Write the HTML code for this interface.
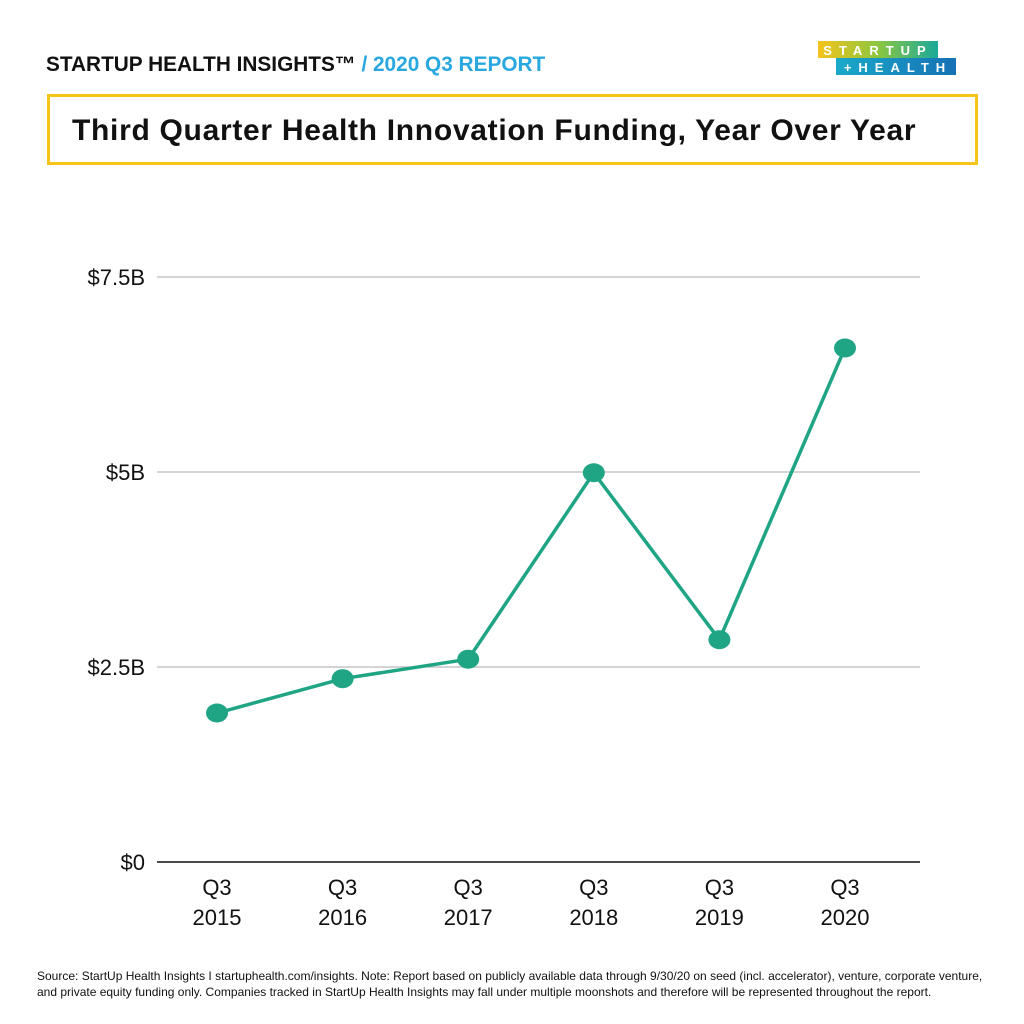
<!DOCTYPE html>
<html><head><meta charset="utf-8"><style>
body{margin:0;background:#fff;}
#c{position:relative;width:1024px;height:1024px;background:#fff;font-family:"Liberation Sans",sans-serif;overflow:hidden}
.hdr{position:absolute;left:46px;top:53px;font-size:20.8px;font-weight:bold;color:#111;letter-spacing:0px}
.hdr span{color:#29a8df}
.title{position:absolute;left:47px;top:94px;width:931px;height:71px;border:3px solid #f5c518;box-sizing:border-box}
.title div{position:absolute;left:22px;top:17px;font-size:30px;font-weight:bold;color:#111;letter-spacing:0.7px;white-space:nowrap}
.foot{position:absolute;left:37px;top:968px;font-size:12px;color:#111;line-height:16px;width:960px}
</style></head><body>
<div id="c">
<div class="hdr">STARTUP HEALTH INSIGHTS™ <span>/ 2020 Q3 REPORT</span></div>
<svg style="position:absolute;left:0;top:0" width="1024" height="1024">
<defs><linearGradient id="g1" x1="0" x2="1"><stop offset="0" stop-color="#f6c31c"/><stop offset="0.5" stop-color="#8cc63f"/><stop offset="1" stop-color="#1aa99a"/></linearGradient>
<linearGradient id="g2" x1="0" x2="1"><stop offset="0" stop-color="#1aa9c9"/><stop offset="1" stop-color="#1671b5"/></linearGradient></defs>
<rect x="818" y="41" width="120" height="17" fill="url(#g1)"/>
<rect x="836" y="58" width="120" height="17" fill="url(#g2)"/>
<text x="878" y="55" fill="#fff" font-size="13" font-weight="bold" text-anchor="middle" letter-spacing="7" font-family="Liberation Sans">STARTUP</text>
<text x="898" y="72" fill="#fff" font-size="13" font-weight="bold" text-anchor="middle" letter-spacing="7" font-family="Liberation Sans">+HEALTH</text>
</svg>
<div class="title"><div>Third Quarter Health Innovation Funding, Year Over Year</div></div>
<svg id="plot" style="position:absolute;left:0;top:0" width="1024" height="1024"></svg>
<div class="foot">Source: StartUp Health Insights I startuphealth.com/insights. Note: Report based on publicly available data through 9/30/20 on seed (incl. accelerator), venture, corporate venture,<br>and private equity funding only. Companies tracked in StartUp Health Insights may fall under multiple moonshots and therefore will be represented throughout the report.</div>
</div>
<script>
const categories=["Q3|2015","Q3|2016","Q3|2017","Q3|2018","Q3|2019","Q3|2020"];
const values=[1.91,2.35,2.6,4.99,2.85,6.59];
const tickValues=[0,2.5,5,7.5];
const tickLabels=["$0","$2.5B","$5B","$7.5B"];
const NS="http://www.w3.org/2000/svg";
const svg=document.getElementById('plot');
const y=v=>862-v*78;
const x=i=>217+i*125.6;
function mk(t,a){const e=document.createElementNS(NS,t);for(const k in a)e.setAttribute(k,a[k]);svg.appendChild(e);return e;}
tickValues.forEach((v,i)=>{
  const l=mk('line',{x1:157,x2:920,y1:y(v),y2:y(v),stroke:v===0?'#111':'#bbb','stroke-width':v===0?1.5:1.2});
  
  
  const t=mk('text',{x:145,y:y(v)+8,'text-anchor':'end','font-size':22,fill:'#111','font-family':'Liberation Sans'});
  t.textContent=tickLabels[i];
  
  
});
categories.forEach((c,i)=>{
  const p=c.split('|');
  p.forEach((s,j)=>{
    const t=mk('text',{x:x(i),y:895+j*30,'text-anchor':'middle','font-size':22,fill:'#111','font-family':'Liberation Sans'});
    t.textContent=s;
    
    
  });
});
const pl=mk('polyline',{points:values.map((v,i)=>x(i)+','+y(v)).join(' '),fill:'none',stroke:'#1fa584','stroke-width':3.5});


values.forEach((v,i)=>{
  const c=mk('ellipse',{cx:x(i),cy:y(v),rx:11,ry:9.5,fill:'#1fa584'});
  
  
});
</script>
</body></html>
